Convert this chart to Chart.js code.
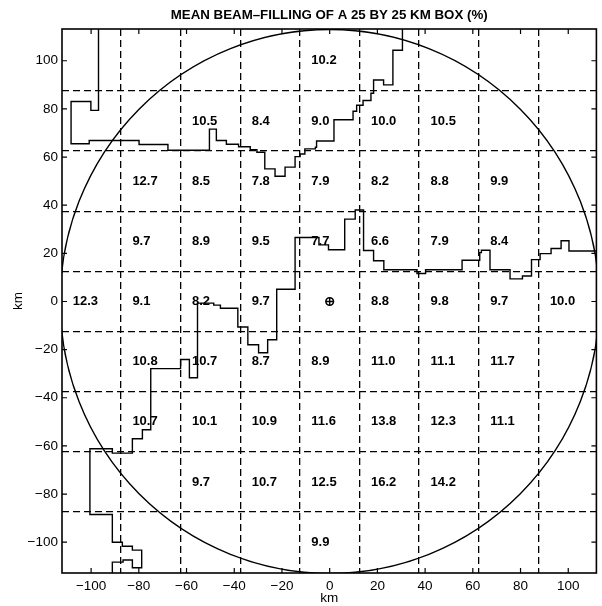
<!DOCTYPE html>
<html><head><meta charset="utf-8">
<script src="https://cdn.jsdelivr.net/npm/chart.js@4.4.0/dist/chart.umd.min.js"></script>
<style>html,body{margin:0;padding:0;background:#fff}#wrap{width:602px;height:606px}</style>
</head><body><div id="wrap"><canvas id="c" width="602" height="606"></canvas></div>
<script>
const TITLE = 'MEAN BEAM\u2013FILLING OF A 25 BY 25 KM BOX (%)';
const xTickValues = [-100, -80, -60, -40, -20, 0, 20, 40, 60, 80, 100];
const yTickValues = [-100, -80, -60, -40, -20, 0, 20, 40, 60, 80, 100];
const gridKm = [-87.5, -62.5, -37.5, -12.5, 12.5, 37.5, 62.5, 87.5];
const rangeRingKm = 113;
const radarX = [0];
const radarY = [0];

// Cell centres (km) and mean beam-filling values (%)
const cellX = [0,
  -50, -25, 0, 25, 50,
  -75, -50, -25, 0, 25, 50, 75,
  -75, -50, -25, 0, 25, 50, 75,
  -100, -75, -50, -25, 25, 50, 75, 100,
  -75, -50, -25, 0, 25, 50, 75,
  -75, -50, -25, 0, 25, 50, 75,
  -50, -25, 0, 25, 50,
  0];
const cellY = [100,
  75, 75, 75, 75, 75,
  50, 50, 50, 50, 50, 50, 50,
  25, 25, 25, 25, 25, 25, 25,
  0, 0, 0, 0, 0, 0, 0, 0,
  -25, -25, -25, -25, -25, -25, -25,
  -50, -50, -50, -50, -50, -50, -50,
  -75, -75, -75, -75, -75,
  -100];
const cellValue = [10.2,
  10.5, 8.4, 9.0, 10.0, 10.5,
  12.7, 8.5, 7.8, 7.9, 8.2, 8.8, 9.9,
  9.7, 8.9, 9.5, 7.7, 6.6, 7.9, 8.4,
  12.3, 9.1, 8.2, 9.7, 8.8, 9.8, 9.7, 10.0,
  10.8, 10.7, 8.7, 8.9, 11.0, 11.1, 11.7,
  10.7, 10.1, 10.9, 11.6, 13.8, 12.3, 11.1,
  9.7, 10.7, 12.5, 16.2, 14.2,
  9.9];

// Northern coastline (km)
const northCoastX = [-96.9, -96.9, -100.1, -100.1, -108.4, -108.4, -100.8, -100.8, -79.9, -79.9,
  -67.8, -67.8, -50.4, -50.4, -47.5, -47.5, -43.3, -43.3, -38.2, -38.2,
  -33.3, -33.3, -30.5, -30.5, -27.2, -27.2, -22.9, -22.9, -18.7, -18.7,
  -14.5, -14.5, -12.4, -12.4, -10.4, -10.4, -6.0, -6.0, -5.5, -5.5,
  1.8, 1.8, 9.8, 9.8, 11.3, 11.3, 14.0, 14.0, 17.3, 17.3,
  18.4, 18.4, 22.6, 22.6, 26.5, 26.5, 30.5, 30.5];
const northCoastY = [113.5, 79.4, 79.4, 83.1, 83.1, 65.5, 65.5, 66.9, 66.9, 65.2,
  65.2, 62.8, 62.8, 71.6, 71.6, 66.9, 66.9, 65.3, 65.3, 64.3,
  64.3, 63.1, 63.1, 62.0, 62.0, 55.1, 55.1, 52.0, 52.0, 55.8,
  55.8, 60.2, 60.2, 61.3, 61.3, 63.4, 63.4, 64.1, 64.1, 66.7,
  66.7, 75.5, 75.5, 79.0, 79.0, 81.5, 81.5, 83.5, 83.5, 86.5,
  86.5, 92.0, 92.0, 90.0, 90.0, 104.4, 104.4, 113.5];

// Central / south-western coastline (km)
const southCoastX = [113.5, 100.3, 100.3, 97.0, 97.0, 92.8, 92.8, 88.2, 88.2, 84.6,
  84.6, 80.8, 80.8, 75.6, 75.6, 67.2, 67.2, 63.6, 63.6, 62.9,
  62.9, 55.5, 55.5, 40.2, 40.2, 36.6, 36.6, 22.7, 22.7, 18.4,
  18.4, 14.2, 14.2, 10.7, 10.7, 6.3, 6.3, -0.5, -0.5, -4.5,
  -4.5, -14.5, -14.5, -22.2, -22.2, -26.0, -26.0, -29.8, -29.8, -34.3,
  -34.3, -38.5, -38.5, -45.8, -45.8, -48.6, -48.6, -55.4, -55.4, -58.8,
  -58.8, -62.5, -62.5, -75.0, -75.0, -78.5, -78.5, -82.7, -82.7, -91.1,
  -91.1, -100.5, -100.5, -91.1, -91.1, -86.9, -86.9, -82.7, -82.7, -78.8,
  -78.8, -82.7, -82.7, -86.6, -86.6, -91.1, -91.1];
const southCoastY = [21.0, 21.0, 25.2, 25.2, 22.0, 22.0, 19.9, 19.9, 17.4, 17.4,
  10.6, 10.6, 9.4, 9.4, 13.2, 13.2, 21.3, 21.3, 20.3, 20.3,
  17.1, 17.1, 13.2, 13.2, 11.6, 11.6, 13.2, 13.2, 16.9, 16.9,
  21.2, 21.2, 38.0, 38.0, 34.2, 34.2, 21.5, 21.5, 23.5, 23.5,
  26.6, 26.6, 5.1, 5.1, -15.9, -15.9, -21.3, -21.3, -18.0, -18.0,
  -10.6, -10.6, -2.8, -2.8, -1.5, -1.5, -0.7, -0.7, -31.7, -31.7,
  -24.1, -24.1, -27.9, -27.9, -53.3, -53.3, -57.0, -57.0, -63.0, -63.0,
  -61.2, -61.2, -88.5, -88.5, -100.0, -100.0, -101.7, -101.7, -103.3, -103.3,
  -110.6, -110.6, -107.4, -107.4, -108.3, -108.3, -113.5];

const zip = (xs, ys) => xs.map((x, i) => ({x: x, y: ys[i]}));
const FONT = '"Liberation Sans", Arial, sans-serif';
const X_MIN = -112.2, X_MAX = 111.8, Y_MIN = -112.8, Y_MAX = 113.2;
const LABEL_SHIFT_KM = -7.7;

const decor = {
  id: 'decor',
  beforeDatasetsDraw(chart) {
    const {ctx, chartArea: ca, scales: {x, y}} = chart;
    const cx = x.getPixelForValue(0), cy = y.getPixelForValue(0);
    const rx = x.getPixelForValue(rangeRingKm) - cx;
    const ry = cy - y.getPixelForValue(rangeRingKm);
    ctx.save();
    ctx.beginPath(); ctx.rect(ca.left, ca.top, ca.right - ca.left, ca.bottom - ca.top); ctx.clip();
    ctx.beginPath(); ctx.ellipse(cx, cy, rx, ry, 0, 0, Math.PI * 2);
    ctx.strokeStyle = '#000'; ctx.lineWidth = 1.4; ctx.stroke();
    ctx.restore();
  },
  afterDatasetsDraw(chart) {
    const {ctx, chartArea: ca, scales: {x, y}} = chart;
    ctx.save();
    ctx.fillStyle = '#000';
    ctx.font = 'bold 13px ' + FONT;
    ctx.textAlign = 'left'; ctx.textBaseline = 'middle';
    cellValue.forEach((v, i) => {
      ctx.fillText(v.toFixed(1), x.getPixelForValue(cellX[i] + LABEL_SHIFT_KM), y.getPixelForValue(cellY[i]));
    });
    // border
    ctx.strokeStyle = '#000'; ctx.lineWidth = 1.6;
    ctx.strokeRect(ca.left, ca.top, ca.right - ca.left, ca.bottom - ca.top);
    // inner ticks
    ctx.lineWidth = 1.2;
    ctx.beginPath();
    x.ticks.forEach(t => {
      const px = x.getPixelForValue(t.value);
      ctx.moveTo(px, ca.bottom); ctx.lineTo(px, ca.bottom - 5);
      ctx.moveTo(px, ca.top); ctx.lineTo(px, ca.top + 5);
    });
    y.ticks.forEach(t => {
      const py = y.getPixelForValue(t.value);
      ctx.moveTo(ca.left, py); ctx.lineTo(ca.left + 5, py);
      ctx.moveTo(ca.right, py); ctx.lineTo(ca.right - 5, py);
    });
    ctx.stroke();
    // title
    ctx.font = 'bold 13.3px ' + FONT;
    ctx.textAlign = 'center'; ctx.textBaseline = 'alphabetic';
    ctx.fillText(TITLE, (ca.left + ca.right) / 2, 18.5);
    ctx.restore();
  }
};

const minus = v => String(v).replace('-', '\u2212');

new Chart(document.getElementById('c'), {
  type: 'scatter',
  data: {
    datasets: [
      {data: zip(radarX, radarY), pointStyle: 'cross', pointRadius: 3.5, borderColor: '#000', borderWidth: 1.4, order: 0},
      {data: zip(radarX, radarY), pointStyle: 'circle', pointRadius: 3.8, borderColor: '#000', borderWidth: 1.6, backgroundColor: '#fff', order: 1},
      {data: zip(northCoastX, northCoastY), showLine: true, borderColor: '#000', borderWidth: 1.4, pointRadius: 0, fill: false, order: 2},
      {data: zip(southCoastX, southCoastY), showLine: true, borderColor: '#000', borderWidth: 1.4, pointRadius: 0, fill: false, order: 3}
    ]
  },
  options: {
    responsive: false, animation: false, devicePixelRatio: 1,
    layout: {padding: {top: 29, right: 1, left: 0, bottom: 0}},
    plugins: {legend: {display: false}, tooltip: {enabled: false}, title: {display: false}},
    scales: {
      x: {
        type: 'linear', position: 'bottom', min: X_MIN, max: X_MAX,
        afterBuildTicks: s => { s.ticks = xTickValues.map(v => ({value: v})); },
        afterFit: s => { s.height = 33; },
        grid: {display: false, drawTicks: false}, border: {display: false},
        ticks: {padding: 5, color: '#000', autoSkip: false, maxRotation: 0, font: {family: FONT, size: 13.5}, callback: v => minus(v)},
        title: {display: true, text: 'km', color: '#000', font: {family: FONT, size: 13.5}, padding: {top: 0, bottom: 0}}
      },
      y: {
        type: 'linear', position: 'left', min: Y_MIN, max: Y_MAX,
        afterBuildTicks: s => { s.ticks = yTickValues.map(v => ({value: v})); },
        afterFit: s => { s.width = 62; },
        grid: {display: false, drawTicks: false}, border: {display: false},
        ticks: {padding: 4, color: '#000', autoSkip: false, font: {family: FONT, size: 13.5}, callback: v => minus(v)},
        title: {display: true, text: 'km', color: '#000', font: {family: FONT, size: 13.5}, padding: {top: 10, bottom: 0}}
      },
      xg: {
        type: 'linear', position: 'top', min: X_MIN, max: X_MAX,
        afterBuildTicks: s => { s.ticks = gridKm.map(v => ({value: v})); },
        afterFit: s => { s.height = 0; },
        ticks: {display: false},
        grid: {color: '#000', lineWidth: 1.3, drawTicks: false},
        border: {display: false, dash: [7, 4]}
      },
      yg: {
        type: 'linear', position: 'right', min: Y_MIN, max: Y_MAX,
        afterBuildTicks: s => { s.ticks = gridKm.map(v => ({value: v})); },
        afterFit: s => { s.width = 0; },
        ticks: {display: false},
        grid: {color: '#000', lineWidth: 1.3, drawTicks: false},
        border: {display: false, dash: [7, 4]}
      }
    }
  },
  plugins: [decor]
});
</script></body></html>
